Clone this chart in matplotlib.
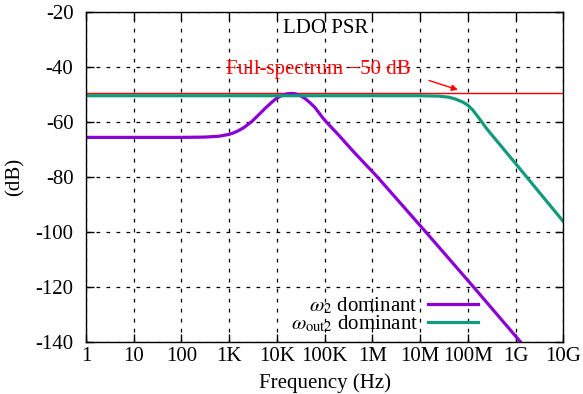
import matplotlib
matplotlib.use("Agg")
import matplotlib.pyplot as plt

# purple curve (omega_2 dominant): frequency in Hz, PSR in dB
w2_freq = [1, 100, 300, 600, 1000, 1260, 1585, 2000, 2950, 3980, 5620, 7940, 1e4,
           12590, 15850, 19950, 25120, 31620, 39810, 50120, 63100, 93330,
           107200, 2e5, 3.98e5, 1.26e6, 1.3e7, 1.3e8, 1.26e9]
w2_db = [-65.7, -65.7, -65.6, -65.3, -64.6, -64.0, -63.2, -62.2, -60.0, -57.8, -55.2, -52.8, -51.4,
         -50.5, -49.9, -49.7, -49.9, -50.6, -51.7, -53.2, -54.9, -58.8,
         -60.0, -65.0, -70.8, -80.0, -100.0, -120.0, -140.0]

# green curve (omega_out2 dominant)
wout_freq = [1, 1e7, 2.5e7, 4e7, 5.6e7, 7.9e7, 1e8, 1.26e8, 1.58e8, 2e8, 2.5e8,
             3.55e8, 1e9, 1e10]
wout_db = [-50.55, -50.55, -50.7, -51.1, -51.8, -52.9, -54.0, -55.7, -57.9, -60.3, -62.6,
           -65.8, -75.2, -96.3]

spec_db = -49.45
spec_freq = [1, 1e10]

xticks = [1, 10, 100, 1e3, 1e4, 1e5, 1e6, 1e7, 1e8, 1e9, 1e10]
xticklabels = ["1", "10", "100", "1K", "10K", "100K", "1M", "10M", "100M", "1G", "10G"]
yticks = [-140, -120, -100, -80, -60, -40, -20]

plt.rcParams["font.family"] = ["Liberation Serif", "DejaVu Serif"]
plt.rcParams["mathtext.fontset"] = "stix"
plt.rcParams["font.size"] = 15

fig = plt.figure(figsize=(5.83, 3.94), dpi=100)
ax = fig.add_axes([0.1475, 0.1327, 0.8187, 0.8376])

ax.plot(spec_freq, [spec_db, spec_db], color="red", lw=1.0)
ax.plot(w2_freq, w2_db, color="#8b00d4", lw=2.3, label=r"$\omega_2$ dominant")
ax.plot(wout_freq, wout_db, color="#119b7c", lw=2.3, label=r"$\omega_{\rm out2}$ dominant")

ax.set_xscale("log")
ax.set_xlim(1, 1e10)
ax.set_ylim(-140, -20)
ax.set_xticks(xticks)
ax.set_xticklabels(xticklabels)
ax.minorticks_off()
ax.set_yticks(yticks)
ax.set_yticklabels([str(v) for v in yticks])
ax.tick_params(direction="in", top=True, right=True, length=6, width=1, pad=4)
ax.tick_params(axis="y", pad=9)
ax.grid(True, color="black", linestyle=(0, (3, 5)), linewidth=0.9)
for s in ax.spines.values():
    s.set_linewidth(1.0)

ax.set_xlabel("Frequency (Hz)", labelpad=5)
ax.set_ylabel("(dB)", labelpad=8)

ax.text(1.07e5, -26, "LDO PSR", ha="center", va="center")
ax.annotate("Full-spectrum \u221250 dB", xy=(6.2e7, -48.4), xytext=(7.3e4, -41.1),
            color="red", ha="center", va="center",
            arrowprops=dict(arrowstyle="-|>", color="red", lw=1.0,
                            mutation_scale=9, shrinkA=12, shrinkB=0,
                            relpos=(1.0, 0.25)))

ax.legend(loc="lower right", bbox_to_anchor=(0.822, 0.022), frameon=False,
          markerfirst=False, handlelength=2.4, handletextpad=0.5,
          labelspacing=-0.1, borderpad=0.0, borderaxespad=0.0)

fig.savefig("out.png", dpi=100)
